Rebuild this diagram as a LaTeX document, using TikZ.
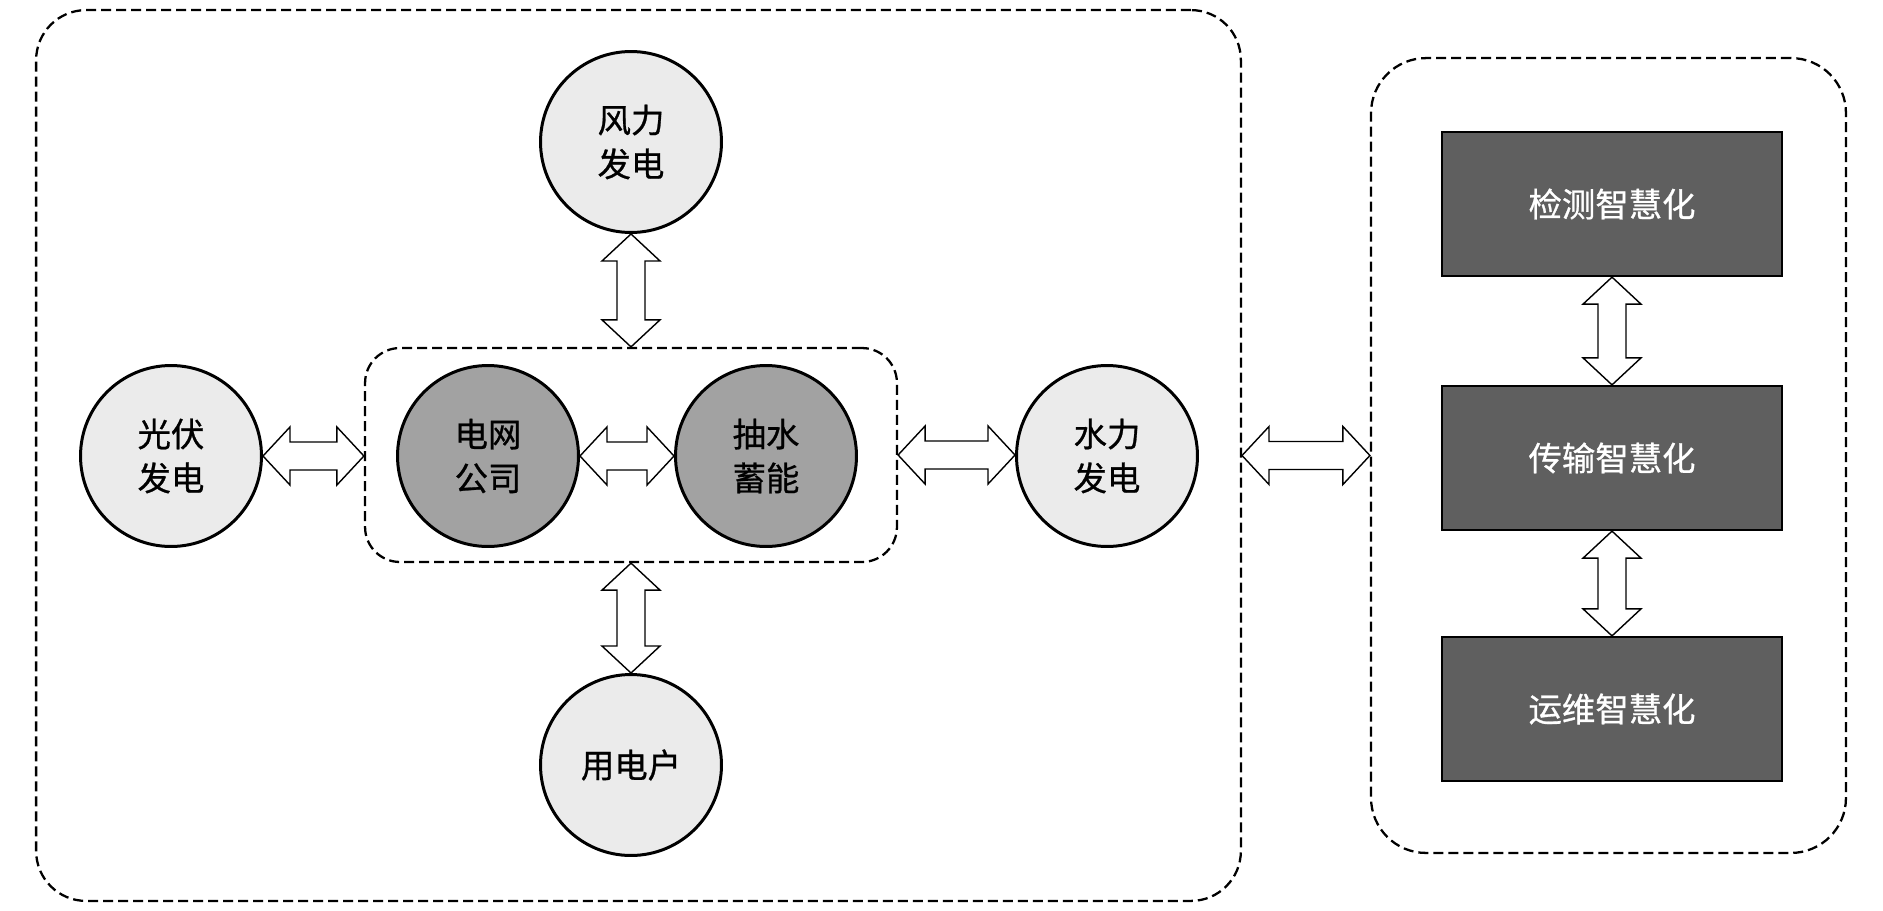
\documentclass[tikz,border=0pt]{standalone}
\usepackage{fontspec}
\newfontfamily\cjk[FakeBold=0.8]{Noto Sans CJK SC}
\usetikzlibrary{calc}
\definecolor{outerfill}{HTML}{EBEBEB}
\definecolor{corefill}{HTML}{A2A2A2}
\definecolor{smartfill}{HTML}{5F5F5F}

% double block arrows, left->right and top->bottom
\newcommand{\harrow}[2]{%
  \draw[blockarrow] let \p1=(#1), \p2=(#2) in
    (\x1,\y1) -- (\x1+0.54cm,\y1+0.58cm) -- (\x1+0.54cm,\y1+0.28cm) -- (\x2-0.54cm,\y1+0.28cm)
    -- (\x2-0.54cm,\y1+0.58cm) -- (\x2,\y1) -- (\x2-0.54cm,\y1-0.58cm) -- (\x2-0.54cm,\y1-0.28cm)
    -- (\x1+0.54cm,\y1-0.28cm) -- (\x1+0.54cm,\y1-0.58cm) -- cycle;}
\newcommand{\varrow}[2]{%
  \draw[blockarrow] let \p1=(#1), \p2=(#2) in
    (\x1,\y1) -- (\x1+0.58cm,\y1-0.54cm) -- (\x1+0.28cm,\y1-0.54cm) -- (\x1+0.28cm,\y2+0.54cm)
    -- (\x1+0.58cm,\y2+0.54cm) -- (\x1,\y2) -- (\x1-0.58cm,\y2+0.54cm) -- (\x1-0.28cm,\y2+0.54cm)
    -- (\x1-0.28cm,\y1-0.54cm) -- (\x1-0.58cm,\y1-0.54cm) -- cycle;}

\begin{document}
\begin{tikzpicture}[x=0.02cm,y=-0.02cm,
    every node/.style={font=\cjk\fontsize{19}{25}\selectfont, align=center},
    panel/.style={draw, line width=1.3pt, dash pattern=on 0.2cm off 0.1cm},
    outer/.style={circle, draw, line width=1.7pt, fill=outerfill, minimum size=3.62cm, inner sep=0pt},
    core/.style={circle, draw, line width=1.7pt, fill=corefill, minimum size=3.62cm, inner sep=0pt},
    smart/.style={draw, line width=1.3pt, fill=smartfill, text=white, minimum width=6.8cm, minimum height=2.88cm},
    blockarrow/.style={draw, fill=white, line width=0.8pt, line join=miter}]
  \useasboundingbox (0,0) rectangle (1883,910);

  % left panel: power sources around the grid
  \node[panel, minimum width=24.1cm, minimum height=17.82cm, rounded corners=1cm] (leftpanel) at (638.5,455.5) {};
  \node[panel, minimum width=10.64cm, minimum height=4.28cm, rounded corners=0.7cm] (hub) at (631,455) {};
  \node[core] (gridco) at (488,456) {电网\\公司};
  \node[core] (pump) at (766,456) {抽水\\蓄能};
  \node[outer] (wind) at (631,142) {风力\\发电};
  \node[outer] (pv) at (171,456) {光伏\\发电};
  \node[outer] (hydro) at (1107,456) {水力\\发电};
  \node[outer] (user) at (631,765) {用电户};

  % right panel: smart operation
  \node[panel, minimum width=9.5cm, minimum height=15.9cm, rounded corners=1.1cm] (rightpanel) at (1608.5,455.5) {};
  \node[smart] (detect) at (1612,204) {检测智慧化};
  \node[smart] (trans) at (1612,458) {传输智慧化};
  \node[smart] (oper) at (1612,709) {运维智慧化};

  % arrows
  \harrow{pv.east}{hub.west}
  \harrow{gridco.east}{pump.west}
  \harrow{hub.east}{hydro.west}
  \harrow{leftpanel.east}{rightpanel.west}
  \varrow{wind.south}{hub.north}
  \varrow{hub.south}{user.north}
  \varrow{detect.south}{trans.north}
  \varrow{trans.south}{oper.north}
\end{tikzpicture}
\end{document}
